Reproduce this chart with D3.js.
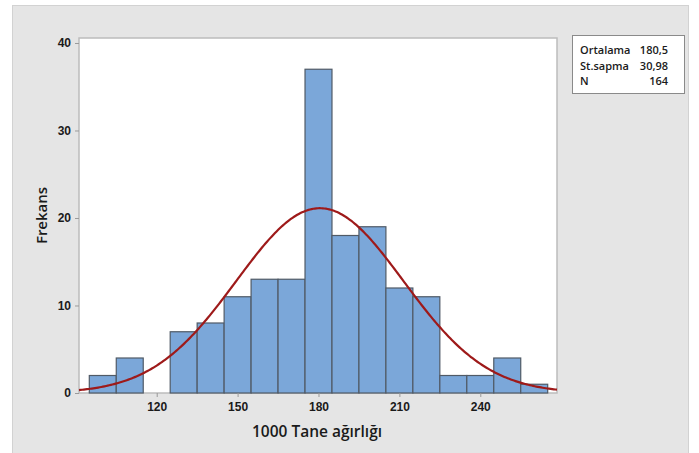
<!DOCTYPE html>
<html>
<head>
<meta charset="utf-8">
<script src="https://cdn.jsdelivr.net/npm/d3@7"></script>
<style>
  html, body { margin: 0; padding: 0; background: #ffffff; }
  svg { display: block; font-family: "Open Sans", "Noto Sans", sans-serif; }
</style>
</head>
<body>
<svg id="chart" width="699" height="453"></svg>
<script>
// Histogram bins (centre of each 10-unit bin) and their counts
const binCenters = [100, 110, 120, 130, 140, 150, 160, 170, 180, 190, 200, 210, 220, 230, 240, 250, 260];
const binCounts  = [2, 4, 0, 7, 8, 11, 13, 13, 37, 18, 19, 12, 11, 2, 2, 4, 1];
const binWidth = 10;

// Summary statistics shown in the legend box
const statLabels = ["Ortalama", "St.sapma", "N"];
const statValues = ["180,5", "30,98", "164"];
const mean = 180.5, sd = 30.98, n = 164;

// Axis ticks
const xTicks = [120, 150, 180, 210, 240];
const yTicks = [0, 10, 20, 30, 40];

const svg = d3.select("#chart");

// Outer grey panel
svg.append("rect")
  .attr("x", 12.5).attr("y", 5.5)
  .attr("width", 676).attr("height", 450)
  .attr("fill", "#e5e5e5")
  .attr("stroke", "#d2d2d2");

const plot = { left: 79, top: 38, right: 557, bottom: 393 };

const x = d3.scaleLinear().domain([91.18, 268.45]).range([plot.left, plot.right]);
const y = d3.scaleLinear().domain([0, 40.57]).range([plot.bottom, plot.top]);

// Plot area
svg.append("rect")
  .attr("x", plot.left).attr("y", plot.top)
  .attr("width", plot.right - plot.left).attr("height", plot.bottom - plot.top)
  .attr("fill", "#ffffff")
  .attr("stroke", "#bcbcbc")
  .attr("stroke-width", 1.5);

// Bars
const bins = binCenters.map((c, i) => ({ c, v: binCounts[i] })).filter(d => d.v > 0);
svg.append("g").selectAll("rect")
  .data(bins)
  .join("rect")
  .attr("x", d => x(d.c - binWidth / 2))
  .attr("y", d => y(d.v))
  .attr("width", d => x(d.c + binWidth / 2) - x(d.c - binWidth / 2))
  .attr("height", d => y(0) - y(d.v))
  .attr("fill", "#7ba7d9")
  .attr("stroke", "#505a66")
  .attr("stroke-width", 1.2);

// Fitted normal curve scaled to counts
const domain = x.domain();
const curvePts = d3.range(0, 301).map(i => {
  const v = domain[0] + (domain[1] - domain[0]) * i / 300;
  const dens = Math.exp(-0.5 * ((v - mean) / sd) ** 2) / (sd * Math.sqrt(2 * Math.PI));
  return [v, dens * n * binWidth];
});
svg.append("path")
  .datum(curvePts)
  .attr("fill", "none")
  .attr("stroke", "#9e1a1a")
  .attr("stroke-width", 2.2)
  .attr("d", d3.line().x(d => x(d[0])).y(d => y(d[1])));

// Axes
const xAxis = svg.append("g")
  .attr("transform", `translate(0,${plot.bottom})`)
  .call(d3.axisBottom(x).tickValues(xTicks).tickSize(4).tickPadding(5));
const yAxis = svg.append("g")
  .attr("transform", `translate(${plot.left},0)`)
  .call(d3.axisLeft(y).tickValues(yTicks).tickSize(4).tickPadding(4));

[xAxis, yAxis].forEach(a => {
  a.select(".domain").remove();
  a.selectAll("line").attr("stroke", "#9a9a9a");
  a.selectAll("text")
    .attr("fill", "#1a1a1a")
    .style("font-size", "12px")
    .style("font-weight", "600");
});

// Axis titles
svg.append("text")
  .attr("x", 317)
  .attr("y", 437)
  .attr("text-anchor", "middle")
  .attr("fill", "#1a1a1a")
  .style("font-size", "15.5px")
  .style("font-weight", "600")
  .text("1000 Tane ağırlığı");

svg.append("text")
  .attr("transform", `translate(47,${(plot.top + plot.bottom) / 2}) rotate(-90)`)
  .attr("text-anchor", "middle")
  .attr("fill", "#1a1a1a")
  .style("font-size", "15px")
  .style("font-weight", "600")
  .text("Frekans");

// Legend box with summary statistics
const lg = svg.append("g").attr("transform", "translate(572,35)");
lg.append("rect")
  .attr("x", 0.5).attr("y", 0.5)
  .attr("width", 112).attr("height", 58)
  .attr("fill", "#ffffff")
  .attr("stroke", "#8a8a8a");
statLabels.forEach((lab, i) => {
  lg.append("text")
    .attr("x", 8).attr("y", 19 + i * 15.5)
    .attr("fill", "#1a1a1a")
    .style("font-size", "11px")
    .style("font-weight", "600")
    .text(lab);
  lg.append("text")
    .attr("x", 96).attr("y", 19 + i * 15.5)
    .attr("text-anchor", "end")
    .attr("fill", "#1a1a1a")
    .style("font-size", "11px")
    .style("font-weight", "600")
    .text(statValues[i]);
});
</script>
</body>
</html>
